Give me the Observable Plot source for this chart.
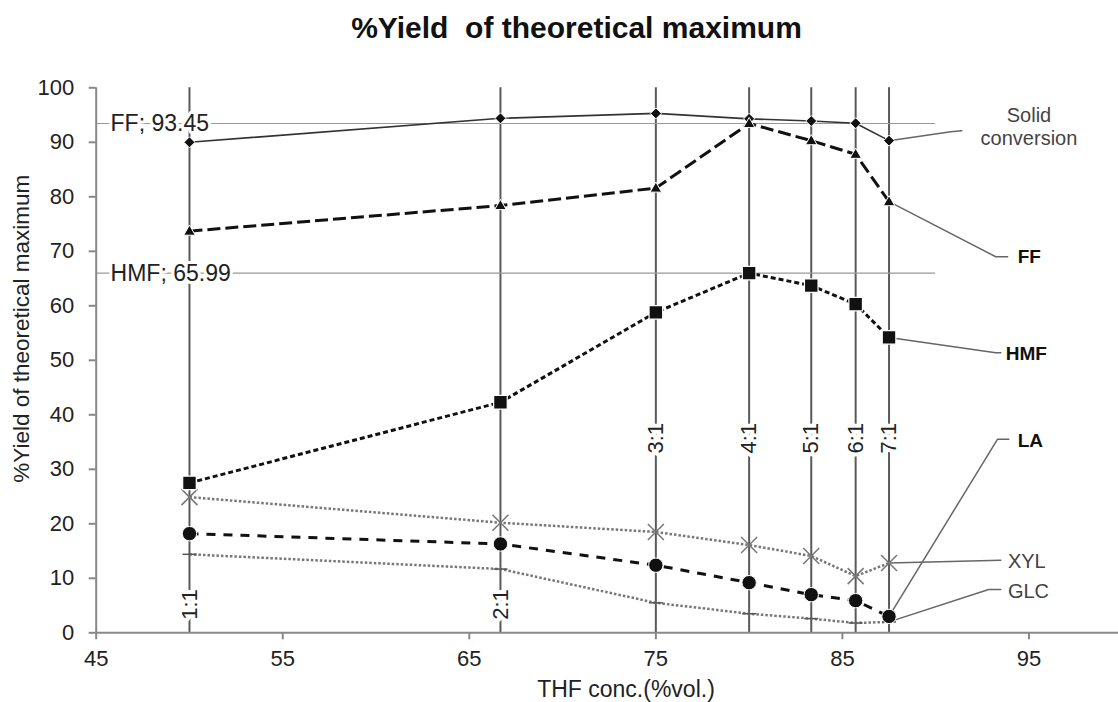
<!DOCTYPE html>
<html><head><meta charset="utf-8">
<script src="https://cdn.jsdelivr.net/npm/d3@7"></script>
<script src="https://cdn.jsdelivr.net/npm/@observablehq/plot@0.6"></script>
<style>
body{margin:0;background:#fff;font-family:"Liberation Sans",Arial,sans-serif;}
#title{height:56px;line-height:56px;font-size:30px;font-weight:bold;text-align:center;padding-left:35px;width:1083px;color:#111;white-space:pre;}
#chart svg{display:block;}
</style></head><body>
<div id="title">%Yield  of theoretical maximum</div>
<div id="chart"></div>
<script>
// THF concentration (%vol.) for each THF:water ratio
const thf = [50, 66.67, 75, 80, 83.33, 85.71, 87.5];
const ratios = ["1:1", "2:1", "3:1", "4:1", "5:1", "6:1", "7:1"];
// series values (% yield of theoretical maximum)
const solidConversion = [90.0, 94.4, 95.3, 94.3, 93.9, 93.5, 90.3];
const ffYield  = [73.7, 78.4, 81.6, 93.45, 90.3, 87.8, 79.1];
const hmfYield = [27.5, 42.3, 58.8, 65.99, 63.7, 60.3, 54.2];
const xylYield = [24.9, 20.2, 18.5, 16.1, 14.1, 10.4, 12.8];
const laYield  = [18.2, 16.3, 12.4, 9.2, 7.0, 5.9, 3.0];
const glcYield = [14.4, 11.7, 5.5, 3.5, 2.6, 1.8, 2.0];
// maxima reference lines
const refNames  = ["FF", "HMF"];
const refValues = [93.45, 65.99];
// tick values
const xTicks = [45, 55, 65, 75, 85, 95];
const yTicks = [0, 10, 20, 30, 40, 50, 60, 70, 80, 90, 100];

// annotation anchors (data units)
const ratioLabelY = [5.2, 5.2, 35.7, 35.7, 35.7, 35.7, 35.7];
const calloutText = ["Solid\nconversion", "FF", "HMF", "LA", "XYL", "GLC"];
const calloutStyle = ["plain-center", "bold", "bold", "bold", "plain", "plain"];
const calloutElbowX = [[90.81, 91.40], [93.22, 93.86], [93.22, 93.49], [93.31, 93.92], [93.49], [92.84, 93.49]];
const calloutElbowY = [[91.95, 92.1], [69.0, 69.0], [51.4, 51.4], [35.5, 35.5], [13.3], [7.94, 7.94]];
const calloutLabelX = [95.0, 94.40, 93.76, 94.40, 93.87, 93.87];
const calloutLabelY = [92.9, 68.9, 51.2, 35.3, 13.1, 7.6];
const refLabelX = 45.77;

const rows = v => thf.map((x, i) => ({x, y: v[i]}));
const seriesVals = [solidConversion, ffYield, hmfYield, laYield, xylYield, glcYield];

const sym = f => ({draw(ctx, size) { const r = Math.sqrt(size / Math.PI); f(ctx, r); }});
const diamond = sym((c, r) => { c.moveTo(0, -r); c.lineTo(r, 0); c.lineTo(0, r); c.lineTo(-r, 0); c.closePath(); });
const triangle = sym((c, r) => { c.moveTo(0, -r * 1.05); c.lineTo(r, r * 0.7); c.lineTo(-r, r * 0.7); c.closePath(); });
const square = sym((c, r) => { c.rect(-r, -r, 2 * r, 2 * r); });
const times = sym((c, r) => { c.moveTo(-r, -r); c.lineTo(r, r); c.moveTo(r, -r); c.lineTo(-r, r); });
const dash = sym((c, r) => { c.moveTo(-r, 0); c.lineTo(r, 0); });

const leaderRows = [];
calloutText.forEach((t, k) => {
  const v = seriesVals[k];
  leaderRows.push({k, x: thf[thf.length - 1], y: v[v.length - 1]});
  calloutElbowX[k].forEach((x, j) => leaderRows.push({k, x, y: calloutElbowY[k][j]}));
});
const calloutRows = calloutText.map((t, k) => ({t, x: calloutLabelX[k], y: calloutLabelY[k], s: calloutStyle[k]}));

const lineOpts = {x: "x", y: "y", strokeLinecap: "butt", strokeLinejoin: "miter"};
const font = "'Liberation Sans', Arial, sans-serif";
const chart = Plot.plot({
  width: 1118, height: 646,
  marginTop: 31.3, marginBottom: 69.7, marginLeft: 95.7, marginRight: 0,
  style: {fontFamily: font, background: "white", overflow: "visible"},
  x: {domain: [45, 99.8]},
  y: {domain: [0, 100]},
  marks: [
    Plot.ruleX(thf, {y1: 0, y2: 100, stroke: "#5a5a5a", strokeWidth: 2}),
    Plot.ruleY(refValues, {x1: 45, x2: 90, stroke: "#9a9a9a", strokeWidth: 1.2}),
    Plot.text(refValues.map((v, i) => ({v, t: refNames[i] + "; " + v})), {x: refLabelX, y: "v", text: "t", textAnchor: "start", fontSize: 23, fill: "#222", stroke: "white", strokeWidth: 6, paintOrder: "stroke"}),
    Plot.text(ratios.map((t, i) => ({t, x: thf[i], y: ratioLabelY[i]})), {x: "x", y: "y", text: "t", rotate: -90, fontSize: 22, fill: "#222", stroke: "white", strokeWidth: 8, paintOrder: "stroke"}),
    Plot.ruleX([45], {y1: 0, y2: 100, stroke: "#888", strokeWidth: 2}),
    Plot.ruleY([0], {stroke: "#888", strokeWidth: 2}),
    Plot.axisX({ticks: xTicks, tickSize: 7, tickPadding: 11, fontSize: 22, stroke: "#888", strokeWidth: 2, fill: "#222", label: null}),
    Plot.axisY({ticks: yTicks, tickSize: 7, tickPadding: 15, fontSize: 22, stroke: "#888", strokeWidth: 2, fill: "#222", label: null}),
    Plot.text(["%Yield of theoretical maximum"], {frameAnchor: "left", y: 55.8, dx: -74, rotate: -90, textAnchor: "middle", lineAnchor: "middle", fontSize: 22.5, fill: "#222"}),
    Plot.text(["THF conc.(%vol.)"], {x: 73.4, frameAnchor: "bottom", dy: 57, textAnchor: "middle", lineAnchor: "middle", fontSize: 23, fill: "#222"}),
    // leader lines + callouts
    Plot.line(leaderRows, {x: "x", y: "y", z: "k", stroke: "#666", strokeWidth: 1.5}),
    Plot.text(calloutRows.filter(d => d.s === "plain-center"), {x: "x", y: "y", text: "t", textAnchor: "middle", fontSize: 20, lineHeight: 1.15, fill: "#444"}),
    Plot.text(calloutRows.filter(d => d.s === "bold"), {x: "x", y: "y", text: "t", textAnchor: "start", fontSize: 19, fontWeight: "bold", fill: "#111"}),
    Plot.text(calloutRows.filter(d => d.s === "plain"), {x: "x", y: "y", text: "t", textAnchor: "start", fontSize: 20, fill: "#444"}),
    // series lines
    Plot.line(rows(solidConversion), {...lineOpts, stroke: "#333", strokeWidth: 1.6}),
    Plot.line(rows(ffYield), {...lineOpts, stroke: "#111", strokeWidth: 3, strokeDasharray: "13,5"}),
    Plot.line(rows(hmfYield), {...lineOpts, stroke: "#111", strokeWidth: 3, strokeDasharray: "5,3"}),
    Plot.line(rows(laYield), {...lineOpts, stroke: "#111", strokeWidth: 3, strokeDasharray: "9,8"}),
    Plot.line(rows(xylYield), {...lineOpts, stroke: "#777", strokeWidth: 2.5, strokeDasharray: "2.5,2"}),
    Plot.line(rows(glcYield), {...lineOpts, stroke: "#777", strokeWidth: 2.5, strokeDasharray: "2.5,2"}),
    // markers
    Plot.dot(rows(xylYield), {x: "x", y: "y", symbol: times, r: 8, fill: "none", stroke: "#777", strokeWidth: 1.5}),
    Plot.dot(rows(glcYield), {x: "x", y: "y", symbol: dash, r: 7, fill: "none", stroke: "#555", strokeWidth: 1.5}),
    Plot.dot(rows(solidConversion), {x: "x", y: "y", symbol: diamond, r: 5.5, fill: "#111", stroke: "white", strokeWidth: 1}),
    Plot.dot(rows(ffYield), {x: "x", y: "y", symbol: triangle, r: 5.8, fill: "#111", stroke: "white", strokeWidth: 1}),
    Plot.dot(rows(hmfYield), {x: "x", y: "y", symbol: square, r: 6.8, fill: "#111", stroke: "white", strokeWidth: 1.2}),
    Plot.dot(rows(laYield), {x: "x", y: "y", symbol: "circle", r: 7.2, fill: "#111", stroke: "white", strokeWidth: 1})
  ]
});
document.getElementById("chart").appendChild(chart);
</script>
</body></html>
